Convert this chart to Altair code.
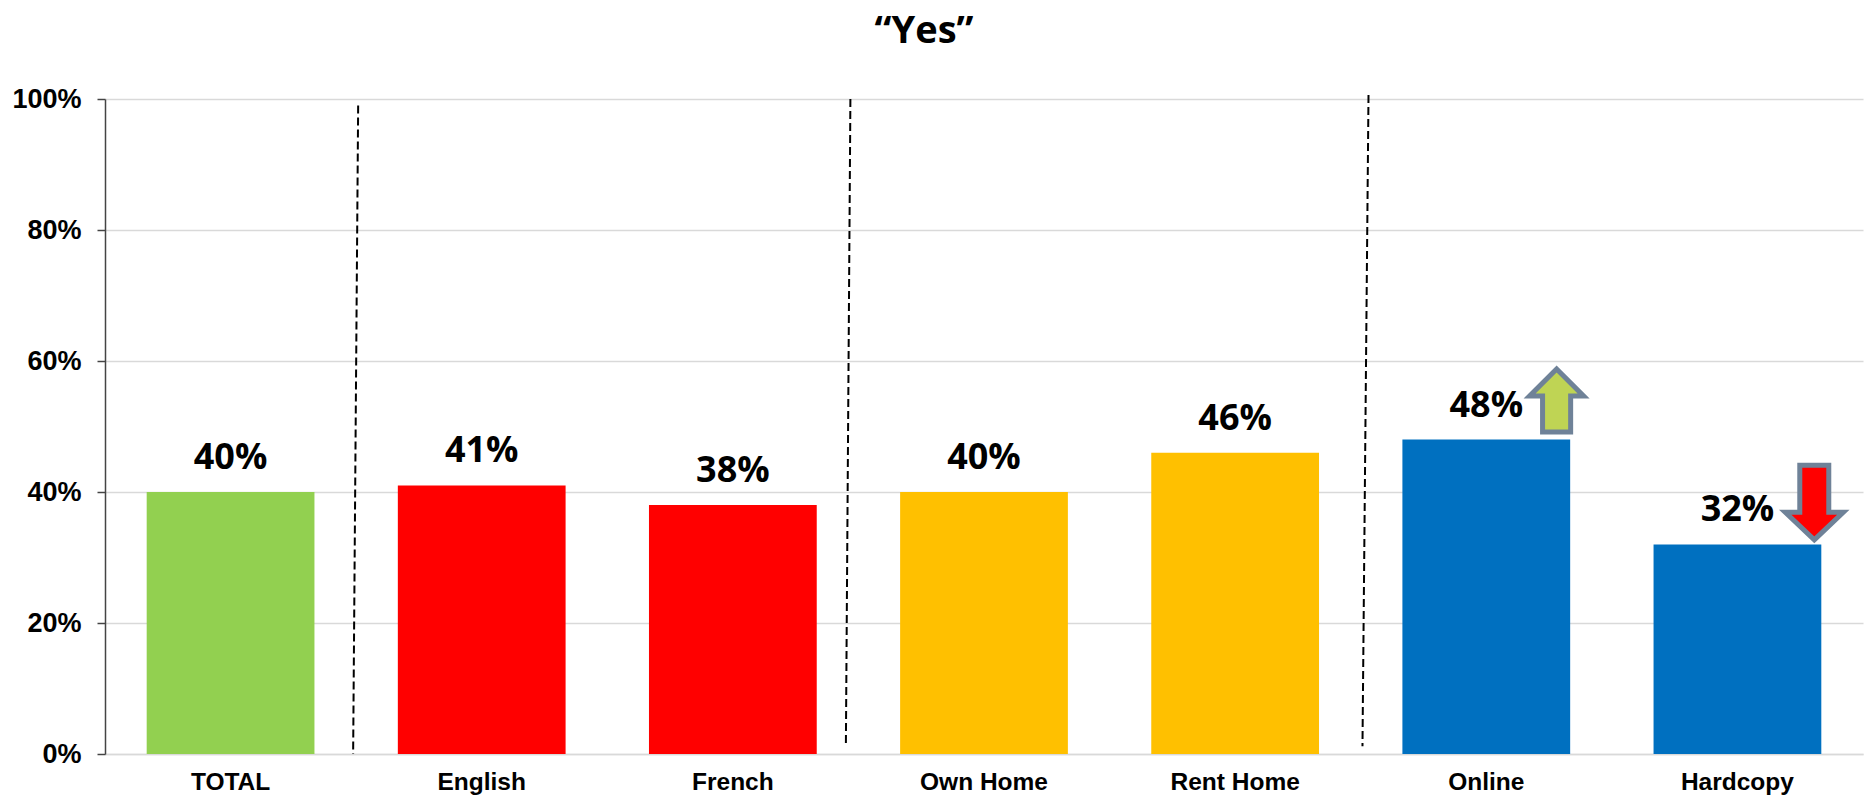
import altair as alt
import pandas as pd

# Survey results for the "Yes" answer, by audience split
categories = ["TOTAL", "English", "French", "Own Home", "Rent Home", "Online", "Hardcopy"]
values = [0.40, 0.41, 0.38, 0.40, 0.46, 0.48, 0.32]
bar_colors = ["#92D050", "#FF0000", "#FF0000", "#FFC000", "#FFC000", "#0070C0", "#0070C0"]

# Hand-drawn group separators, in category units along x
sep_group = [1, 1, 2, 2, 3, 3]
sep_x = [1.008, 0.988, 2.968, 2.950, 5.031, 5.007]
sep_y = [0.990, 0.000, 1.000, 0.011, 1.006, 0.012]

# Significance arrows next to the Online and Hardcopy labels
up_x, up_y = [5.78], [0.5397]
down_x, down_y = [6.806], [0.385]
UP_ARROW = "M0,-0.875 L0.75,-0.125 L0.39,-0.125 L0.39,0.875 L-0.39,0.875 L-0.39,-0.125 L-0.75,-0.125 Z"
DOWN_ARROW = "M0,0.95 L0.725,0.2625 L0.3625,0.2625 L0.3625,-0.9125 L-0.3625,-0.9125 L-0.3625,0.2625 L-0.725,0.2625 Z"
ARROW_EDGE = "#6F8298"

bars_df = pd.DataFrame({"category": categories, "value": values, "color": bar_colors})
sep_df = pd.DataFrame({"group": sep_group, "x": sep_x, "y": sep_y})
up_df = pd.DataFrame({"x": up_x, "y": up_y})
down_df = pd.DataFrame({"x": down_x, "y": down_y})

y_axis = alt.Axis(
    format=".0%", values=[0, 0.2, 0.4, 0.6, 0.8, 1.0], labelFont="Liberation Sans",
    labelFontWeight="bold", labelFontSize=27, labelColor="#000000", labelPadding=16,
    tickSize=8, tickColor="#444444", tickWidth=1.5, domainColor="#444444", domainWidth=1.5,
    gridColor="#D9D9D9", gridWidth=1.5,
)
y_scale = alt.Scale(domain=[0, 1], nice=False)

x_band = alt.X(
    "category:N",
    sort=categories,
    title=None,
    scale=alt.Scale(paddingInner=0.332, paddingOuter=0.166),
    axis=alt.Axis(
        labelAngle=0, labelFont="Liberation Sans", labelFontWeight="bold", labelFontSize=24.5,
        labelColor="#000000", labelPadding=16, ticks=False, domainColor="#D9D9D9",
        domainWidth=1.5, grid=False,
    ),
)
y_value = alt.Y("value:Q", title=None, scale=y_scale, axis=y_axis)

bars = alt.Chart(bars_df).mark_bar().encode(
    x=x_band, y=y_value, color=alt.Color("color:N", scale=None)
)
labels = alt.Chart(bars_df).mark_text(
    font="Open Sans", fontWeight="bold", fontSize=36, color="#000000",
    baseline="alphabetic", dy=-23,
).encode(x=x_band, y=y_value, text=alt.Text("value:Q", format=".0%"))

x_units = alt.X("x:Q", scale=alt.Scale(domain=[0, 7], nice=False), axis=None)
y_units = alt.Y("y:Q", title=None, scale=y_scale, axis=y_axis)

separators = alt.Chart(sep_df).mark_line(
    color="#000000", strokeWidth=2, strokeDash=[8, 4]
).encode(x=x_units, y=y_units, detail="group:N", order=alt.Order("y:Q", sort="descending"))

up_arrow = alt.Chart(up_df).mark_point(
    shape=UP_ARROW, size=5184, filled=True, fill="#BFD454", stroke=ARROW_EDGE,
    strokeWidth=5, opacity=1, strokeJoin="miter", strokeMiterLimit=10,
).encode(x=x_units, y=y_units)
down_arrow = alt.Chart(down_df).mark_point(
    shape=DOWN_ARROW, size=6400, filled=True, fill="#FF0000", stroke=ARROW_EDGE,
    strokeWidth=5, opacity=1, strokeJoin="miter", strokeMiterLimit=10,
).encode(x=x_units, y=y_units)

band_layers = alt.layer(bars, labels)
overlay_layers = alt.layer(separators, up_arrow, down_arrow)

chart = (
    alt.layer(band_layers, overlay_layers)
    .resolve_scale(x="independent")
    .properties(
        width=1758,
        height=655,
        padding={"left": 105, "top": 99, "right": 2, "bottom": 53},
        autosize=alt.AutoSizeParams(type="none"),
        title=alt.TitleParams(
            "“Yes”", font="Open Sans", fontWeight="bold", fontSize=38, color="#000000",
            anchor="middle", dx=-60, offset=34,
        ),
    )
    .configure_view(stroke=None)
    .configure_axis(labelOverlap=False)
)

chart.save("out.html", embed_options={"renderer": "svg", "actions": False})
